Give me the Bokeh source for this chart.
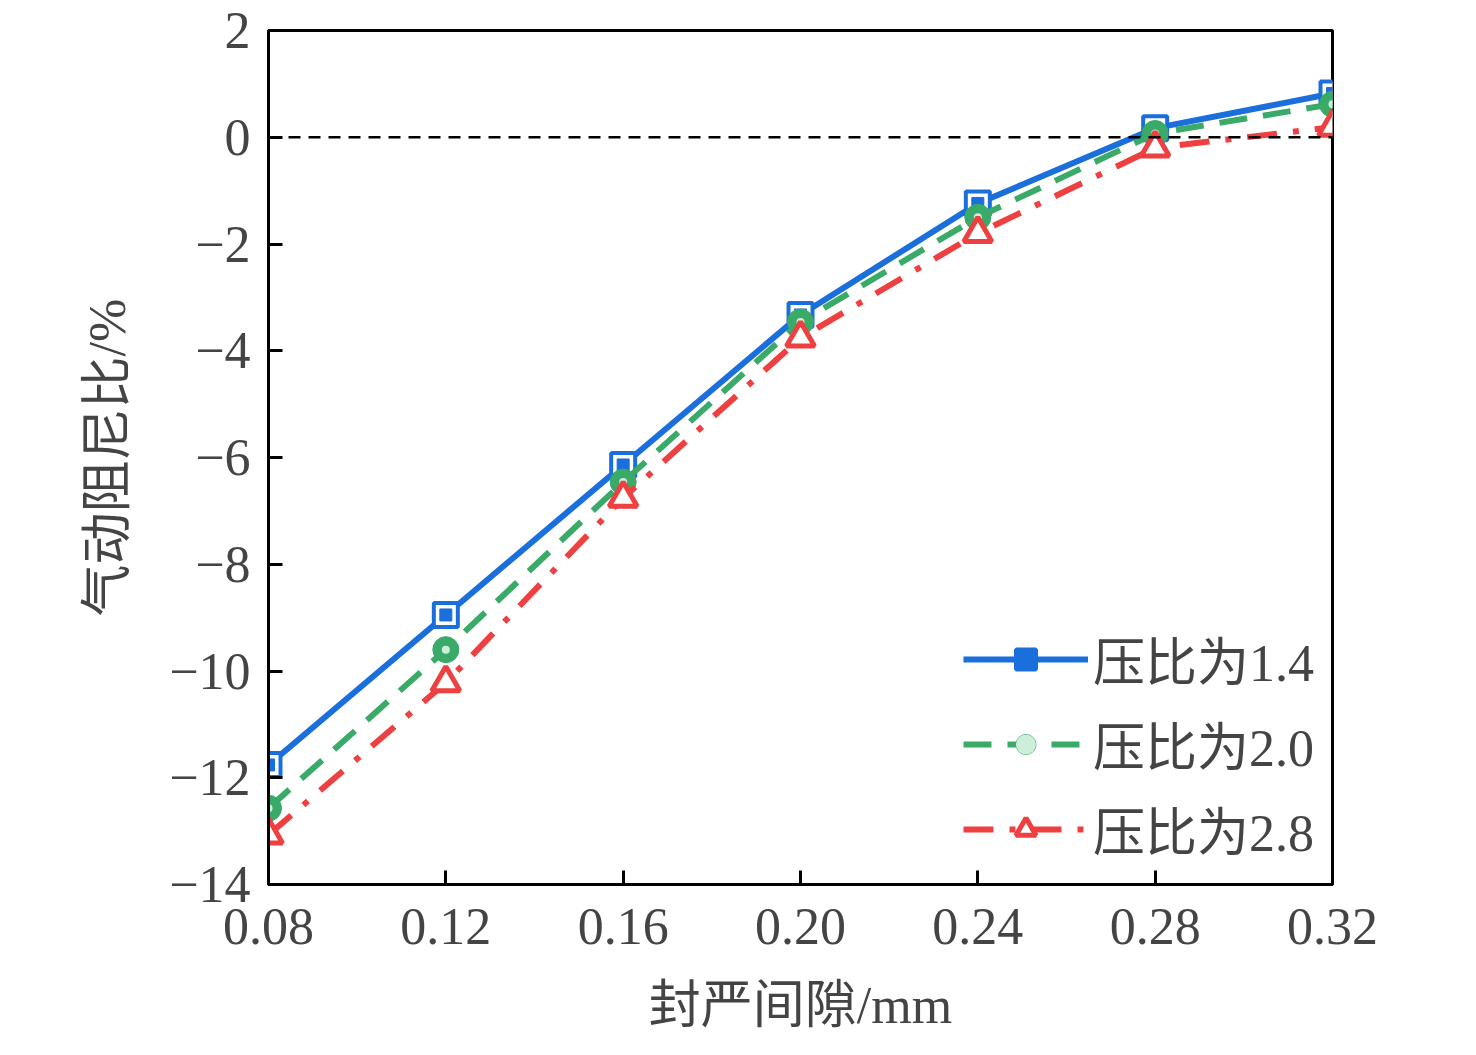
from bokeh.plotting import figure
from bokeh.models import Span, FixedTicker, Legend, LegendItem
from bokeh.embed import file_html
from bokeh.resources import INLINE

x = [0.08, 0.12, 0.16, 0.20, 0.24, 0.28, 0.32]
s14 = [-11.76, -8.95, -6.14, -3.33, -1.24, 0.17, 0.82]
s20 = [-12.57, -9.6, -6.46, -3.46, -1.5, 0.07, 0.62]
s28 = [-13.07, -10.22, -6.76, -3.76, -1.8, -0.2, 0.19]
xticks = [0.08, 0.12, 0.16, 0.20, 0.24, 0.28, 0.32]
xlabels = {t: f"{t:.2f}" for t in xticks}
yticks = list(range(-14, 3, 2))
names = ["压比为1.4", "压比为2.0", "压比为2.8"]

FONT = "Liberation Serif, Noto Sans CJK SC"
p = figure(frame_width=1064, frame_height=854, x_range=(0.08, 0.32), y_range=(-14, 2),
           output_backend="svg", toolbar_location=None, min_border_left=268,
           min_border_top=30, min_border_right=100, min_border_bottom=150)
p.grid.visible = False
p.outline_line_color = "black"; p.outline_line_width = 3
for ax in (p.xaxis[0], p.yaxis[0]):
    ax.axis_line_width = 3
    ax.major_tick_line_width = 3
    ax.major_tick_in = 14; ax.major_tick_out = 0
    ax.minor_tick_line_color = None
    ax.major_label_text_font = FONT
    ax.major_label_text_font_size = "52px"
    ax.axis_label_text_font = FONT
    ax.axis_label_text_font_size = "52px"
    ax.axis_label_text_font_style = "normal"
p.xaxis.ticker = FixedTicker(ticks=xticks)
p.xaxis.major_label_overrides = xlabels
p.yaxis.ticker = FixedTicker(ticks=yticks)
p.yaxis.major_label_overrides = {t: (str(t).replace("-", "\u2212")) for t in yticks}
p.xaxis.axis_label = "封严间隙/mm"
p.yaxis.axis_label = "气动阻尼比/%"
p.xaxis.major_label_standoff = 24
p.yaxis.major_label_standoff = 18
p.xaxis.axis_label_standoff = 30
p.yaxis.axis_label_standoff = 30

p.add_layout(Span(location=0, dimension="width", line_color="black", line_width=2.5, line_dash="12 8"))

blue, green, red = "#1a6fdc", "#3aaa68", "#ee4040"
l1 = p.line(x, s14, line_color=blue, line_width=6)
m1 = p.scatter(x, s14, marker="square", size=24, fill_color="white", line_color=blue, line_width=4)
m1b = p.scatter(x, s14, marker="square", size=12, fill_color=blue, line_color=blue)
l2 = p.line(x, s20, line_color=green, line_width=6, line_dash="28 16")
m2 = p.scatter(x, s20, marker="circle", size=26, fill_color=green, line_color=green)
m2b = p.scatter(x, s20, marker="circle", size=8, fill_color="#cdeedb", line_color=None)
l3 = p.line(x, s28, line_color=red, line_width=6, line_dash="30 16 6 16")
m3 = p.scatter(x, s28, marker="triangle", size=28, fill_color="white", line_color=red, line_width=5)

leg = Legend(items=[LegendItem(label=names[0], renderers=[l1, m1, m1b]),
                    LegendItem(label=names[1], renderers=[l2, m2, m2b]),
                    LegendItem(label=names[2], renderers=[l3, m3])],
             location="bottom_right", border_line_color=None, background_fill_alpha=0,
             label_text_font=FONT, label_text_font_size="52px",
             glyph_width=125, glyph_height=50, label_height=58, spacing=10,
             margin=18)
p.add_layout(leg)

open("out.html", "w").write(file_html(p, INLINE))
